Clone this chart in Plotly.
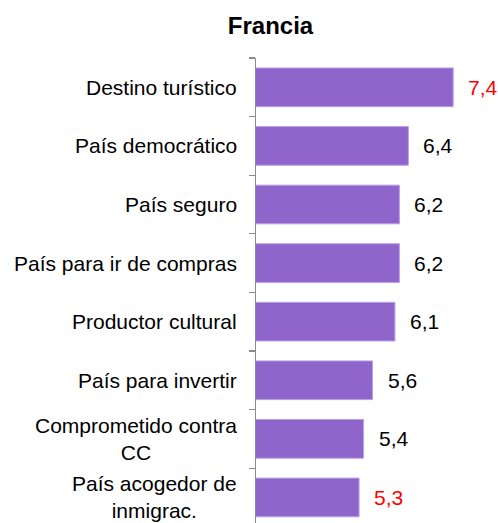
import plotly.graph_objects as go

categories = [
    "Destino turístico",
    "País democrático",
    "País seguro",
    "País para ir de compras",
    "Productor cultural",
    "País para invertir",
    "Comprometido contra<br>CC",
    "País acogedor de<br>inmigrac.",
]
values = [7.4, 6.4, 6.2, 6.2, 6.1, 5.6, 5.4, 5.3]
value_labels = ["7,4", "6,4", "6,2", "6,2", "6,1", "5,6", "5,4", "5,3"]
label_colors = ["#FF0000", "#000000", "#000000", "#000000", "#000000", "#000000", "#000000", "#FF0000"]
title_text = "Francia"

FONT = "Liberation Sans, Arial, sans-serif"

W, H = 498, 523

fig = go.Figure()
fig.add_trace(go.Bar(
    x=values, y=categories, orientation="h",
    width=0.66,
    marker=dict(color="#8F64CB", line=dict(color="#B8A0E2", width=1)),
    hoverinfo="skip",
))

annotations = []
for cat, v, lab, col in zip(categories, values, value_labels, label_colors):
    annotations.append(dict(
        x=v, y=cat, xref="x", yref="y", text=lab, showarrow=False,
        xanchor="left", yanchor="middle", xshift=13,
        font=dict(family=FONT, size=21, color=col),
    ))
    annotations.append(dict(
        x=0, y=cat, xref="paper", yref="y", text=cat, showarrow=False,
        xanchor="right", yanchor="middle", xshift=-17, align="center",
        font=dict(family=FONT, size=21, color="#000000"),
    ))

fig.update_layout(
    width=W, height=H,
    margin=dict(l=256, r=0, t=58, b=0, pad=0),
    paper_bgcolor="white", plot_bgcolor="white",
    showlegend=False,
    title=dict(text="<b>" + title_text + "</b>", x=270.5 / W, xref="container", xanchor="center",
               y=1 - 26 / H, yref="container", yanchor="middle",
               font=dict(family=FONT, size=24, color="#000000")),
    xaxis=dict(range=[3, 8.4], visible=False, showgrid=False, zeroline=False, fixedrange=True),
    yaxis=dict(
        type="category", range=[7.436, -0.5],
        showticklabels=False, showgrid=False, zeroline=False,
        showline=True, linecolor="#8A8A96", linewidth=1.5,
        ticks="outside", tickson="boundaries", ticklen=6, tickcolor="#8A8A96", tickwidth=1.2,
    ),
    annotations=annotations,
)

fig.write_html(
    "out.html",
    config={"displayModeBar": False, "staticPlot": True},
    post_script="document.body.style.margin='0px';document.body.style.overflow='hidden';",
)
